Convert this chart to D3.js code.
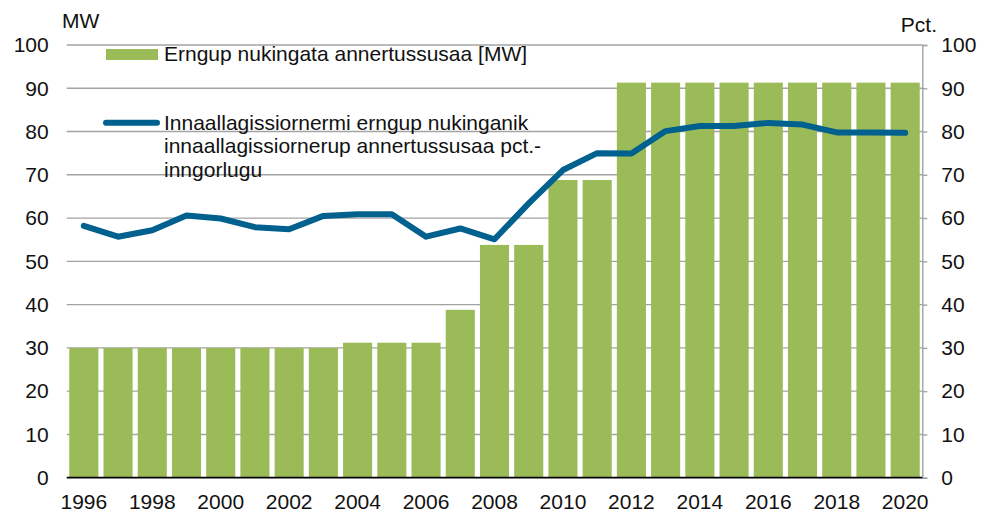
<!DOCTYPE html>
<html>
<head>
<meta charset="utf-8">
<script src="https://cdn.jsdelivr.net/npm/d3@7"></script>
<style>
  body { margin: 0; background: #fff; }
  text { font-family: "Liberation Sans", Arial, sans-serif; fill: #111; }
</style>
</head>
<body>
<svg id="chart"></svg>
<script>
// data
var years = [1996, 1997, 1998, 1999, 2000, 2001, 2002, 2003, 2004, 2005, 2006, 2007, 2008,
  2009, 2010, 2011, 2012, 2013, 2014, 2015, 2016, 2017, 2018, 2019, 2020];
var capacityMW = [30, 30, 30, 30, 30, 30, 30, 30, 31.2, 31.2, 31.2, 38.8, 53.8,
  53.8, 68.8, 68.8, 91.3, 91.3, 91.3, 91.3, 91.3, 91.3, 91.3, 91.3, 91.3];
var sharePct = [58.2, 55.7, 57.2, 60.6, 59.9, 57.9, 57.4, 60.5, 60.9, 60.9, 55.7, 57.6, 55.1,
  63.4, 71.1, 75.0, 74.9, 80.1, 81.3, 81.3, 82.0, 81.6, 79.8, 79.8, 79.7];
var yTicks = [0, 10, 20, 30, 40, 50, 60, 70, 80, 90, 100];
var yearLabels = [1996, 1998, 2000, 2002, 2004, 2006, 2008, 2010, 2012, 2014, 2016, 2018, 2020];
var legendBar = "Erngup nukingata annertussusaa [MW]";
var legendLine = ["Innaallagissiornermi erngup nukinganik",
  "innaallagissiornerup annertussusaa pct.-", "inngorlugu"];

var W = 993, H = 513;
var plotLeft = 66.7, plotRight = 922.3, plotTop = 45, plotBottom = 477.7;
var barColor = "#9bbb59", lineColor = "#00618f", gridColor = "#a3a3a3";
var fs = "21px";

var svg = d3.select("#chart").attr("width", W).attr("height", H);

var x = d3.scaleBand().domain(years).range([plotLeft, plotRight]).paddingInner(0.15).paddingOuter(0.075);
var yL = d3.scaleLinear().domain([0, 100]).range([plotBottom, plotTop]);
var yR = d3.scaleLinear().domain([0, 100]).range([plotBottom, plotTop]);

// gridlines
svg.append("g")
  .selectAll("line")
  .data(yTicks.filter(function (d) { return d > 0; }))
  .enter()
  .append("line")
  .attr("x1", plotLeft)
  .attr("x2", plotRight)
  .attr("y1", function (d) { return yL(d); })
  .attr("y2", function (d) { return yL(d); })
  .attr("stroke", gridColor)
  .attr("stroke-width", 1.4);

// bars
svg.append("g")
  .selectAll("rect")
  .data(years)
  .enter()
  .append("rect")
  .attr("x", function (d) { return x(d); })
  .attr("width", x.bandwidth())
  .attr("y", function (d, i) { return yL(capacityMW[i]); })
  .attr("height", function (d, i) { return plotBottom - yL(capacityMW[i]); })
  .attr("fill", barColor);

// left axis labels
svg.append("g")
  .attr("transform", "translate(" + plotLeft + ",0)")
  .call(d3.axisLeft(yL).tickValues(yTicks).tickSize(0).tickPadding(18))
  .call(function (g) { g.select(".domain").remove(); })
  .selectAll("text")
  .style("font-size", fs)
  .attr("fill", "#111");

// right axis
var gR = svg.append("g")
  .attr("transform", "translate(" + plotRight + ",0)")
  .call(d3.axisRight(yR).tickValues(yTicks).tickSize(5).tickPadding(14));
gR.select(".domain").attr("stroke", gridColor).attr("stroke-width", 1.4);
gR.selectAll(".tick line").attr("stroke", gridColor).attr("stroke-width", 1.4);
gR.selectAll("text").style("font-size", fs).attr("fill", "#111");

// x axis
var gX = svg.append("g")
  .attr("transform", "translate(0," + plotBottom + ")")
  .call(d3.axisBottom(x).tickValues(yearLabels).tickSize(0).tickPadding(16));
gX.select(".domain").remove();
gX.selectAll("text").style("font-size", fs).attr("fill", "#111");
svg.append("line")
  .attr("x1", plotLeft).attr("x2", plotRight)
  .attr("y1", plotBottom).attr("y2", plotBottom)
  .attr("stroke", "#000").attr("stroke-width", 1.8);

// share line
svg.append("path")
  .datum(sharePct)
  .attr("fill", "none")
  .attr("stroke", lineColor)
  .attr("stroke-width", 6)
  .attr("stroke-linejoin", "round")
  .attr("stroke-linecap", "round")
  .attr("d", d3.line()
    .x(function (d, i) { return x(years[i]) + x.bandwidth() / 2; })
    .y(function (d) { return yR(d); }));

// unit labels
svg.append("text").attr("x", 62).attr("y", 28).style("font-size", fs).text("MW");
svg.append("text").attr("x", 937).attr("y", 32).attr("text-anchor", "end").style("font-size", fs).text("Pct.");

// legend
svg.append("rect").attr("x", 106).attr("y", 49).attr("width", 52).attr("height", 11).attr("fill", barColor);
svg.append("text").attr("x", 164).attr("y", 61).style("font-size", fs).text(legendBar);
svg.append("line")
  .attr("x1", 106).attr("x2", 157).attr("y1", 122.7).attr("y2", 122.7)
  .attr("stroke", lineColor).attr("stroke-width", 6).attr("stroke-linecap", "round");
svg.append("g")
  .selectAll("text")
  .data(legendLine)
  .enter()
  .append("text")
  .attr("x", 164)
  .attr("y", function (d, i) { return 130 + i * 23.3; })
  .style("font-size", fs)
  .text(function (d) { return d; });
</script>
</body>
</html>
